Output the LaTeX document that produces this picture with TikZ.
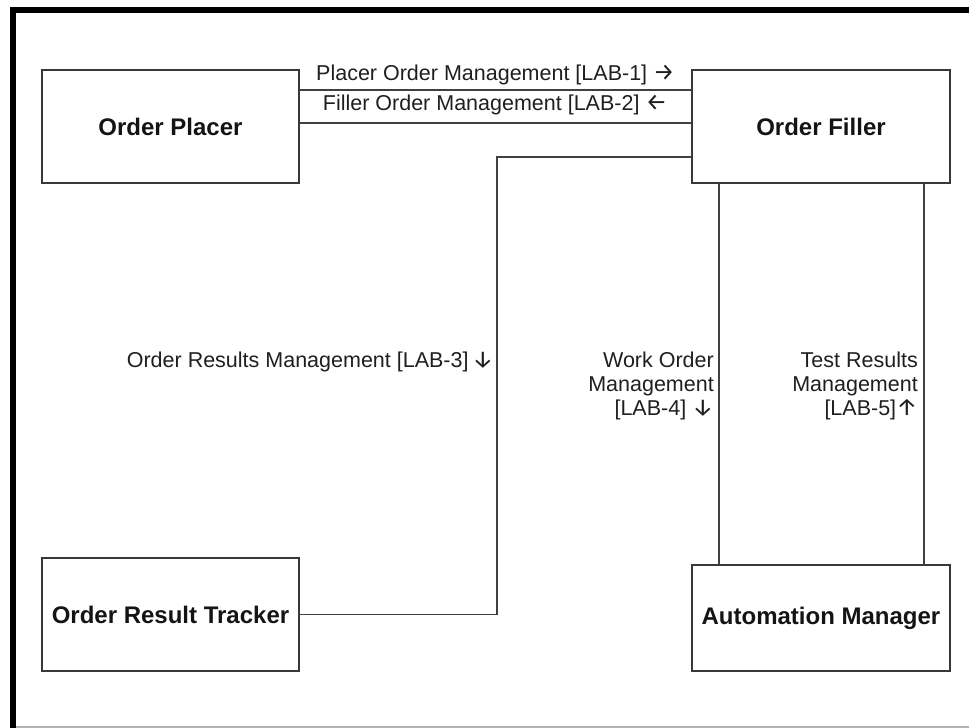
\documentclass[tikz,border=0pt]{standalone}
\usepackage{fontspec}
\setmainfont{Liberation Sans}
\newfontfamily\arrowfont{Fira Sans}
\newcommand{\arr}[1]{{\arrowfont\fontsize{24}{24}\selectfont #1}}
\begin{document}
\begin{tikzpicture}[x=1pt,y=-1pt,
  actor/.style={draw=black!78,line width=1.8pt,inner sep=0pt,
    font=\fontsize{24}{28}\selectfont\bfseries,text=black!92},
  link/.style={draw=black!75,line width=1.5pt},
  lbl/.style={inner sep=0pt,font=\fontsize{21.5}{24.2}\selectfont,text=black!88},
  frameedge/.style={line width=6pt,black}]
\useasboundingbox (0,0) rectangle (969,728);
% outer frame
\draw[frameedge] (10,10) -- (969,10);
\draw[frameedge] (13,7) -- (13,728);
\draw[line width=1.5pt,black!30] (16,727) -- (969,727);
% actors
\node[actor,minimum width=257pt,minimum height=113pt] (op)  at (170.5,126.5) {Order Placer};
\node[actor,minimum width=258pt,minimum height=113pt] (of)  at (821,126.5)   {Order Filler};
\node[actor,minimum width=257pt,minimum height=113pt] (ort) at (170.5,614.5) {Order Result Tracker};
\node[actor,minimum width=258pt,minimum height=106pt] (am)  at (821,618)     {Automation Manager};
% transactions
\draw[link] (op.east |- 0,90)  -- (of.west |- 0,90);
\draw[link] (op.east |- 0,123) -- (of.west |- 0,123);
\coordinate (bend) at (497,157);
\draw[link] (of.west |- bend) -- (bend) |- (ort.east);
\draw[link] (of.south -| 719,0) -- (am.north -| 719,0);
\draw[link] (of.south -| 924,0) -- (am.north -| 924,0);
% transaction labels
\node[lbl,anchor=base] (l1) at (495.5,80) {Placer Order Management [LAB-1] \arr{→}};
\node[lbl,anchor=base] (l2) at (495,110) {Filler Order Management [LAB-2] \arr{←}};
\node[lbl,anchor=base east] (l3) at (494,367) {Order Results Management [LAB-3]\,\arr{↓}};
\node[lbl,anchor=north east,align=right] (l4) at (714,351.5) {Work Order\\Management\\{}[LAB-4] \arr{↓}};
\node[lbl,anchor=north east,align=right] (l5) at (918,351.5) {Test Results\\Management\\{}[LAB-5]\arr{↑}};
\end{tikzpicture}
\end{document}
